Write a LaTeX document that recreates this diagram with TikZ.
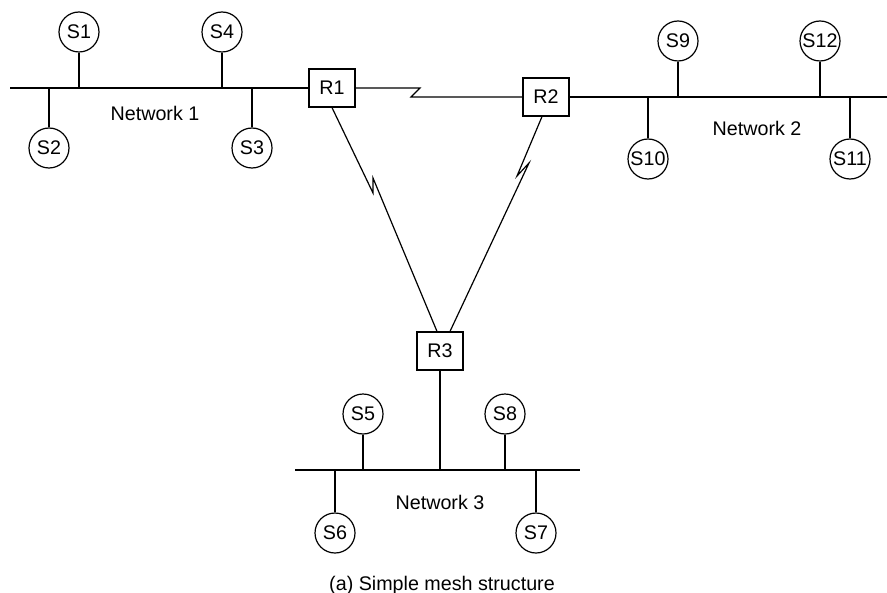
\documentclass[tikz,border=0pt]{standalone}
\usepackage{fontspec}
\setmainfont{Liberation Sans}
\usetikzlibrary{calc}

\begin{document}
\begin{tikzpicture}[
  x=0.5pt, y=-0.5pt,
  font=\fontsize{9.85}{12}\selectfont,
  station/.style={circle, draw, line width=0.6pt, minimum size=20pt, inner sep=0pt},
  router/.style={rectangle, draw, line width=0.6pt, minimum width=23pt, minimum height=19pt, inner sep=0pt},
  wire/.style={draw, line width=0.6pt},
  netlab/.style={inner sep=0pt},
]
\useasboundingbox (0,0) rectangle (887,593);

% ---- routers ----
\node[router] (r1) at (332,88)  {R1};
\node[router] (r2) at (546,97)  {R2};
\node[router] (r3) at (440,351) {R3};

% ---- bus ends ----
\coordinate (bus1w) at (10,88);
\coordinate (bus2e) at (887,97);
\coordinate (bus3w) at (295,470);
\coordinate (bus3e) at (580,470);

% ---- network 1 ----
\node[station] (s1) at (79,32)   {S1};
\node[station] (s4) at (222,32)  {S4};
\node[station] (s2) at (49,148)  {S2};
\node[station] (s3) at (252,148) {S3};
\node[netlab] (net1) at (155,113) {Network 1};

% ---- network 2 ----
\node[station] (s9)  at (678,41)  {S9};
\node[station] (s12) at (820,41)  {S12};
\node[station] (s10) at (648,159) {S10};
\node[station] (s11) at (850,159) {S11};
\node[netlab] (net2) at (757,128) {Network 2};

% ---- network 3 ----
\node[station] (s5) at (363,414) {S5};
\node[station] (s8) at (505,414) {S8};
\node[station] (s6) at (335,533) {S6};
\node[station] (s7) at (536,533) {S7};
\node[netlab] (net3) at (440,502) {Network 3};

\node[netlab] (cap) at (442,585) {(a) Simple mesh structure};

% ---- buses and taps ----
\draw[wire] (bus1w) -- (r1.west);
\foreach \s in {s1,s4} \draw[wire] (\s.south) -- (\s.south |- bus1w);
\foreach \s in {s2,s3} \draw[wire] (\s.north) -- (\s.north |- bus1w);

\draw[wire] (r2.east) -- (bus2e);
\foreach \s in {s9,s12} \draw[wire] (\s.south) -- (\s.south |- bus2e);
\foreach \s in {s10,s11} \draw[wire] (\s.north) -- (\s.north |- bus2e);

\draw[wire] (bus3w) -- (bus3e);
\draw[wire] (r3.south) -- (r3.south |- bus3w);
\foreach \s in {s5,s8} \draw[wire] (\s.south) -- (\s.south |- bus3w);
\foreach \s in {s6,s7} \draw[wire] (\s.north) -- (\s.north |- bus3w);

% ---- point-to-point links (with bolt) ----
\coordinate (k12a) at (420,88);
\coordinate (k12b) at (411,97);
\draw[wire] (r1.east) -- (k12a) -- (k12b) -- (r2.west);

\coordinate (k13a) at (373,193);
\coordinate (k13b) at (373,178);
\draw[wire] (r1.south) -- (k13a) -- (k13b) -- ($(r3.north)+(-3,0)$);

\coordinate (k23a) at (517,176);
\coordinate (k23b) at (529,163);
\draw[wire] ($(r2.south)+(-4,0)$) -- (k23a) -- (k23b) -- ($(r3.north)+(10,0)$);

\end{tikzpicture}
\end{document}
